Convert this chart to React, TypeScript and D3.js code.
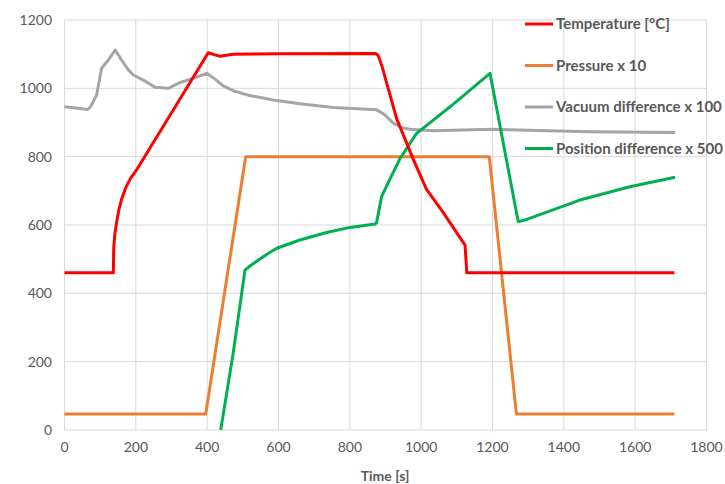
import React, { useEffect, useRef } from 'react'
import * as d3 from 'd3'

// time [s], value
const temperature: [number, number][] = [
  [0, 460], [137, 460], [138, 532], [141, 572], [146, 607], [152, 642], [160, 675],
  [172, 710], [186, 738], [202, 761],
  [403, 1104], [422, 1098], [436, 1094], [473, 1100], [600, 1101], [873, 1102],
  [880, 1095], [890, 1065], [931, 912], [978, 792], [1015, 704], [1062, 636], [1123, 541],
  [1128, 460], [1710, 460],
]
const pressure: [number, number][] = [
  [0, 47], [396, 47], [508, 800], [1191, 800], [1267, 47], [1710, 47],
]
const vacuum: [number, number][] = [
  [0, 946], [43, 941], [64, 938], [73, 946], [90, 980], [104, 1059], [123, 1083],
  [142, 1112], [160, 1083], [179, 1054], [193, 1039], [221, 1024], [254, 1003],
  [291, 1000], [324, 1017], [361, 1029], [399, 1044], [422, 1027], [445, 1007],
  [473, 993], [515, 980], [585, 966], [660, 955], [754, 944], [875, 937],
  [895, 925], [922, 898], [945, 885], [969, 880], [1034, 876], [1200, 880],
  [1473, 873], [1712, 871],
]
const position: [number, number][] = [
  [438, 0], [473, 225], [506, 468], [520, 480], [543, 497], [570, 516], [595, 532],
  [660, 556], [735, 578], [800, 593], [871, 603], [875, 607], [889, 683], [908, 725],
  [941, 795], [987, 868], [1034, 907], [1081, 946], [1137, 995], [1193, 1044],
  [1272, 610], [1286, 613], [1445, 673], [1585, 712], [1712, 740],
]

const seriesNames = ['Temperature [°C]', 'Pressure x 10', 'Vacuum difference x 100', 'Position difference x 500']
const seriesColors = ['#ff0000', '#ed7d31', '#a5a5a5', '#00b050']
const xTicks = [0, 200, 400, 600, 800, 1000, 1200, 1400, 1600, 1800]
const yTicks = [0, 200, 400, 600, 800, 1000, 1200]

const App = () => {
  const ref = useRef<SVGSVGElement>(null)

  useEffect(() => {
    const svg = d3.select(ref.current)
    svg.selectAll('*').remove()

    const x = d3.scaleLinear().domain([0, 1800]).range([64.5, 706.5])
    const y = d3.scaleLinear().domain([0, 1200]).range([430, 20])
    const font = 'Lato, "Open Sans", sans-serif'

    // grid
    svg.append('g').selectAll('line').data(yTicks).enter().append('line')
      .attr('x1', x(0)).attr('x2', x(1800))
      .attr('y1', (d) => y(d)).attr('y2', (d) => y(d))
      .attr('stroke', '#d9d9d9').attr('stroke-width', 1)
    svg.append('g').selectAll('line').data(xTicks).enter().append('line')
      .attr('y1', y(0)).attr('y2', y(1200))
      .attr('x1', (d) => x(d)).attr('x2', (d) => x(d))
      .attr('stroke', '#d9d9d9').attr('stroke-width', 1)

    // tick labels
    svg.append('g').selectAll('text').data(yTicks).enter().append('text')
      .attr('x', 52).attr('y', (d) => y(d) + 5)
      .attr('text-anchor', 'end')
      .attr('font-family', font).attr('font-size', 14).attr('fill', '#595959')
      .text((d) => d)
    svg.append('g').selectAll('text').data(xTicks).enter().append('text')
      .attr('x', (d) => x(d)).attr('y', 452)
      .attr('text-anchor', 'middle')
      .attr('font-family', font).attr('font-size', 14).attr('fill', '#595959')
      .text((d) => d)

    svg.append('text')
      .attr('x', 385).attr('y', 481)
      .attr('text-anchor', 'middle')
      .attr('font-family', font).attr('font-size', 14).attr('font-weight', 'bold')
      .attr('fill', '#595959')
      .text('Time [s]')

    const line = d3.line<[number, number]>().x((d) => x(d[0])).y((d) => y(d[1]))
    const all = [temperature, pressure, vacuum, position]
    // draw order: vacuum, pressure, position, temperature
    ;[2, 1, 3, 0].forEach((i) => {
      svg.append('path')
        .datum(all[i])
        .attr('fill', 'none')
        .attr('stroke', seriesColors[i])
        .attr('stroke-width', 3)
        .attr('stroke-linejoin', 'round')
        .attr('d', line)
    })

    // legend
    const lg = svg.append('g')
    seriesNames.forEach((name, i) => {
      const ly = 24 + i * 41.5
      lg.append('line')
        .attr('x1', 525).attr('x2', 553).attr('y1', ly).attr('y2', ly)
        .attr('stroke', seriesColors[i]).attr('stroke-width', 3)
      lg.append('text')
        .attr('x', 556).attr('y', ly + 5)
        .attr('font-family', font).attr('font-size', 15).attr('font-weight', 'bold')
        .attr('fill', '#595959')
        .text(name)
    })
  }, [])

  return (
    <svg ref={ref} width={725} height={484}
      style={{ position: 'absolute', left: 0, top: 0, background: '#fff' }} />
  )
}

export default App
